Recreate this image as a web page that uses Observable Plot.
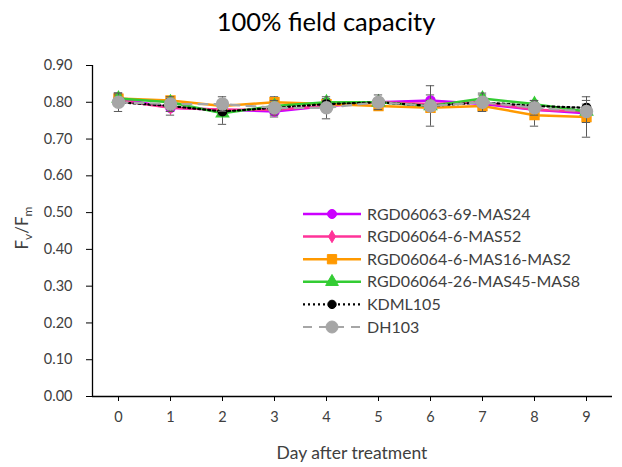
<!DOCTYPE html>
<html><head><meta charset="utf-8">
<script src="https://cdn.jsdelivr.net/npm/d3@7"></script>
<script src="https://cdn.jsdelivr.net/npm/@observablehq/plot@0.6"></script>
<style>
body{margin:0;background:#fff;}
#wrap{position:relative;width:622px;height:467px;font-family:Lato,"Open Sans",sans-serif;}
</style></head>
<body><div id="wrap"></div>
<script>
const days = [0,1,2,3,4,5,6,7,8,9];
const seriesNames = ["RGD06063-69-MAS24","RGD06064-6-MAS52","RGD06064-6-MAS16-MAS2","RGD06064-26-MAS45-MAS8","KDML105","DH103"];
const colors = ["#CC00FF","#FF3399","#FF9900","#33CC33","#000000","#A6A6A6"];
const symbols = ["circle","diamond","square","triangle","circle","circle"];
const dashes = [null,null,null,null,"2,3","9,7"];
const sizes = [4.5,3.5,5,4.5,4.2,6];

const mas24   = [0.810,0.785,0.780,0.775,0.790,0.800,0.805,0.795,0.780,0.770];
const mas52   = [0.805,0.785,0.780,0.780,0.790,0.800,0.795,0.800,0.780,0.775];
const mas16   = [0.810,0.805,0.790,0.800,0.795,0.790,0.785,0.790,0.765,0.760];
const mas8    = [0.810,0.800,0.770,0.790,0.800,0.800,0.790,0.810,0.795,0.775];
const kdml105 = [0.800,0.790,0.775,0.785,0.795,0.800,0.790,0.800,0.790,0.785];
const dh103   = [0.800,0.795,0.795,0.785,0.785,0.800,0.790,0.800,0.785,0.775];

const err24   = [0.015,0.020,0.015,0.015,0.010,0.010,0.015,0.010,0.010,0.010];
const err52   = [0.010,0.010,0.010,0.010,0.010,0.010,0.010,0.010,0.010,0.010];
const err16   = [0.015,0.010,0.015,0.015,0.010,0.010,0.010,0.015,0.030,0.055];
const err8    = [0.010,0.010,0.030,0.010,0.010,0.010,0.010,0.010,0.010,0.010];
const errKd   = [0.010,0.010,0.010,0.010,0.010,0.010,0.010,0.010,0.010,0.010];
const errDh   = [0.025,0.020,0.020,0.020,0.030,0.020,0.055,0.025,0.020,0.030];

const yTicks = [0,0.1,0.2,0.3,0.4,0.5,0.6,0.7,0.8,0.9];
const title = "100% field capacity";
const xLabel = "Day after treatment";

const allVals = [mas24,mas52,mas16,mas8,kdml105,dh103];
const allErr = [err24,err52,err16,err8,errKd,errDh];
const rows = [];
seriesNames.forEach((s,i)=>days.forEach((d,j)=>rows.push({series:s, i, day:d, v:allVals[i][j], e:allErr[i][j]})));

const marks = [];
seriesNames.forEach((s,i)=>{
  const data = rows.filter(r=>r.i===i);
  marks.push(Plot.ruleX(data,{x:"day",y1:d=>d.v-d.e,y2:d=>d.v+d.e,stroke:"#595959",strokeWidth:1}));
  marks.push(Plot.ruleY(data,{y:d=>d.v+d.e,x1:d=>d.day-0.08,x2:d=>d.day+0.08,stroke:"#595959",strokeWidth:1}));
  marks.push(Plot.ruleY(data,{y:d=>d.v-d.e,x1:d=>d.day-0.08,x2:d=>d.day+0.08,stroke:"#595959",strokeWidth:1}));
  marks.push(Plot.line(data,{x:"day",y:"v",stroke:colors[i],strokeWidth:i>=4?2.2:2.5,strokeDasharray:dashes[i]}));
  marks.push(Plot.dot(data,{x:"day",y:"v",fill:colors[i],stroke:colors[i],r:sizes[i],symbol:symbols[i]}));
});

const plot = Plot.plot({
  width:622, height:467,
  marginLeft:92, marginRight:10, marginTop:65, marginBottom:71,
  style:{fontFamily:"Lato, 'Open Sans', sans-serif", fontSize:"14.5px", color:"#404040", background:"#fff"},
  x:{domain:[-0.5,9.5]},
  y:{domain:[0,0.9]},
  marks:[
    Plot.ruleX([-0.5],{y1:0,y2:0.9,stroke:"#000",strokeWidth:1.3}),
    Plot.ruleY([0],{stroke:"#000",strokeWidth:1.3}),
    Plot.axisY({ticks:yTicks,tickFormat:d3.format(".2f"),tickSize:6,tickPadding:14,label:null,fill:"#404040",stroke:"#000"}),
    Plot.axisX({ticks:days,tickSize:5,tickPadding:10,tickFormat:d=>String(d),label:null,fill:"#404040",stroke:"#000"}),
    ...marks
  ]
});
const wrap = document.getElementById("wrap");
wrap.appendChild(plot);
const svg = d3.select(plot);

svg.append("text").attr("x",326).attr("y",31).attr("text-anchor","middle")
  .attr("font-size",25.5).attr("fill","#000").text(title);
svg.append("text").attr("x",352).attr("y",459).attr("text-anchor","middle")
  .attr("font-size",17.5).attr("fill","#404040").text(xLabel);
const yl = svg.append("text").attr("transform","translate(28,228) rotate(-90)").attr("text-anchor","middle")
  .attr("font-size",17).attr("fill","#404040");
yl.append("tspan").text("F");
yl.append("tspan").attr("font-size",12).attr("dy",4).text("v");
yl.append("tspan").attr("dy",-4).text("/F");
yl.append("tspan").attr("font-size",12).attr("dy",4).text("m");

// legend
const lg = svg.append("g");
const sym = {circle:d3.symbolCircle,diamond:d3.symbolDiamond,square:d3.symbolSquare,triangle:d3.symbolTriangle};
seriesNames.forEach((s,i)=>{
  const y = 214 + i*22.6;
  lg.append("line").attr("x1",303).attr("x2",361).attr("y1",y).attr("y2",y)
    .attr("stroke",colors[i]).attr("stroke-width",i>=4?2.2:2.5).attr("stroke-dasharray",dashes[i]);
  lg.append("path").attr("transform",`translate(332,${y})`)
    .attr("d",d3.symbol(sym[symbols[i]], Math.PI*sizes[i]*sizes[i]*(symbols[i]==="circle"?1:1.1))())
    .attr("fill",colors[i]).attr("stroke",colors[i]);
  lg.append("text").attr("x",367).attr("y",y).attr("dy","0.35em").attr("text-anchor","start")
    .attr("font-size",16).attr("fill","#404040").text(s);
});
</script></body></html>
